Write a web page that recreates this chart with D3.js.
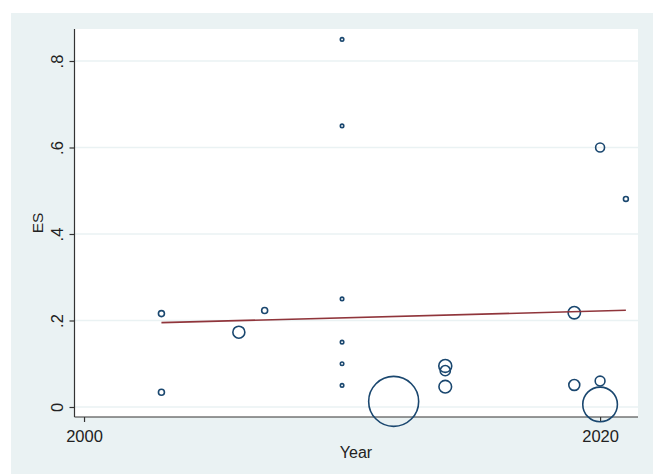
<!DOCTYPE html>
<html>
<head>
<meta charset="utf-8">
<script src="https://cdn.jsdelivr.net/npm/d3@7/dist/d3.min.js"></script>
<style>
  html, body { margin: 0; padding: 0; background: #ffffff; }
  svg { display: block; font-family: "Liberation Sans", Arial, sans-serif; }
</style>
</head>
<body>
<svg id="chart" width="661" height="474"></svg>
<script>
// Study-level effect sizes by publication year; marker area follows study weight
const years   = [2003, 2003, 2006, 2007, 2010, 2010, 2010, 2010, 2010, 2010, 2012, 2014, 2014, 2014, 2019, 2019, 2020, 2020, 2020, 2021];
const es      = [0.216, 0.034, 0.173, 0.223, 0.85, 0.65, 0.25, 0.15, 0.10, 0.05, 0.013, 0.095, 0.084, 0.047, 0.218, 0.051, 0.60, 0.06, 0.006, 0.481];
const weights = [9, 9, 36, 9, 3, 3, 3, 3, 3, 3, 625, 42, 26, 40, 38, 30, 20, 24, 300, 6];

// Fitted meta-regression line (endpoints of the prediction)
const fitYears = [2003, 2021];
const fitES    = [0.195, 0.2236];

const xTicks = [2000, 2020];
const yTicks = [0, 0.2, 0.4, 0.6, 0.8];
const yTickLabels = ["0", ".2", ".4", ".6", ".8"];

const svg = d3.select("#chart");
const plot = { left: 74.5, right: 638, top: 29, bottom: 417 };
const font = "'Liberation Sans', Arial, sans-serif";

// outer graph region
svg.append("rect").attr("x", 11).attr("y", 13).attr("width", 642).attr("height", 461)
  .attr("fill", "#eaf2f3");
// plot region
svg.append("rect").attr("x", plot.left).attr("y", plot.top)
  .attr("width", plot.right - plot.left).attr("height", plot.bottom - plot.top)
  .attr("fill", "#ffffff");

const x = d3.scaleLinear().domain([1999.65, 2021.45]).range([75, 637.5]);
const y = d3.scaleLinear().domain([0, 0.8]).range([407, 61]);
const r = d3.scaleSqrt().domain([0, 625]).range([0, 25]);

// gridlines
svg.append("g").selectAll("line").data(yTicks).join("line")
  .attr("x1", plot.left).attr("x2", plot.right)
  .attr("y1", d => y(d)).attr("y2", d => y(d))
  .attr("stroke", "#eaf2f3").attr("stroke-width", 1.5);

// y axis
const yAxis = d3.axisLeft(y).tickValues(yTicks)
  .tickFormat((d, i) => yTickLabels[i]).tickSize(5).tickPadding(0);
const gy = svg.append("g").attr("transform", `translate(${plot.left},0)`).call(yAxis);
gy.select(".domain").attr("d", `M0,${plot.top}V${plot.bottom}`).attr("stroke", "#333").attr("stroke-width", 1.2);
gy.selectAll(".tick line").attr("stroke", "#333").attr("stroke-width", 1.2);
gy.selectAll(".tick text")
  .attr("x", 0).attr("y", 0)
  .attr("transform", "translate(-12,0) rotate(-90)")
  .attr("text-anchor", "middle").attr("dy", "0")
  .attr("font-size", 16.5).attr("fill", "#222")
  .style("font-family", font);

// x axis
const xAxis = d3.axisBottom(x).tickValues(xTicks).tickFormat(d3.format("d")).tickSize(5).tickPadding(8);
const gx = svg.append("g").attr("transform", `translate(0,${plot.bottom})`).call(xAxis);
gx.select(".domain").attr("d", `M${plot.left},0H${plot.right}`).attr("stroke", "#333").attr("stroke-width", 1.2);
gx.selectAll(".tick line").attr("stroke", "#333").attr("stroke-width", 1.2);
gx.selectAll(".tick text").attr("font-size", 16.5).attr("fill", "#222")
  .style("font-family", font);

// axis titles
svg.append("text").attr("transform", `translate(43,${(plot.top + plot.bottom) / 2}) rotate(-90)`)
  .attr("text-anchor", "middle").attr("font-size", 15.5).attr("fill", "#222")
  .style("font-family", font).text("ES");
svg.append("text").attr("x", 356).attr("y", 458)
  .attr("text-anchor", "middle").attr("font-size", 16).attr("fill", "#222")
  .style("font-family", font).text("Year");

// weighted markers
const pts = years.map((yr, i) => ({ yr, es: es[i], w: weights[i] }));
svg.append("g").selectAll("circle").data(pts).join("circle")
  .attr("cx", d => x(d.yr)).attr("cy", d => y(d.es))
  .attr("r", d => r(d.w))
  .attr("fill", "none").attr("stroke", "#1a476f").attr("stroke-width", 1.6);

// fitted line
const line = d3.line().x(d => x(d[0])).y(d => y(d[1]));
svg.append("path").datum(fitYears.map((yr, i) => [yr, fitES[i]]))
  .attr("d", line).attr("fill", "none").attr("stroke", "#90353b").attr("stroke-width", 1.6);
</script>
</body>
</html>
